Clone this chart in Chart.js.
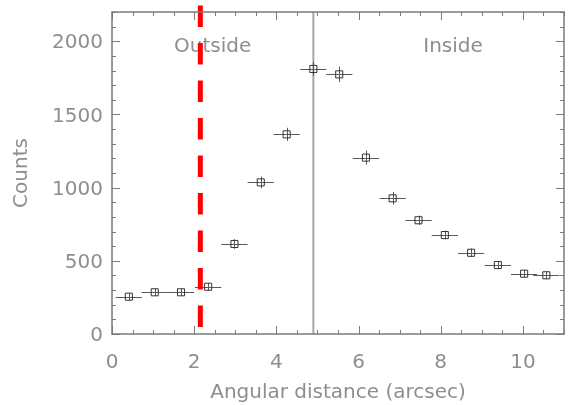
<!DOCTYPE html>
<html>
<head>
<meta charset="utf-8">
<script src="https://cdn.jsdelivr.net/npm/chart.js@4/dist/chart.umd.min.js"></script>
<style>
  html, body { margin: 0; padding: 0; background: #ffffff; }
  #wrap { width: 578px; height: 405px; }
</style>
</head>
<body>
<div id="wrap"><canvas id="c" width="578" height="405"></canvas></div>
<script>
// ---- data ----
const distances = [0.41, 1.04, 1.68, 2.34, 2.98, 3.62, 4.25, 4.90, 5.53, 6.18, 6.83, 7.46, 8.10, 8.74, 9.39, 10.03, 10.57];
const counts    = [255, 285, 285, 323, 615, 1036, 1364, 1811, 1774, 1205, 927, 777, 676, 555, 471, 412, 401];
const xErrors   = [0.32, 0.32, 0.32, 0.32, 0.32, 0.32, 0.32, 0.32, 0.32, 0.32, 0.32, 0.32, 0.32, 0.32, 0.32, 0.32, 0.32];
const yErrors   = [25, 25, 25, 25, 33, 40, 45, 48, 53, 48, 43, 32, 30, 30, 28, 27, 27];
const xTickLabels = [0, 2, 4, 6, 8, 10];
const yTickLabels = [0, 500, 1000, 1500, 2000];
const xMinorStep = 0.5;
const yMinorStep = 100;
const peakLineX = 4.90;      // grey solid vertical line
const boundaryX = 2.15;      // red dashed vertical line
const boundaryYStart = 48;   // bottom end of red dashed line (counts)
const regionLabels = [
  { text: 'Outside', x: 2.45, y: 1960 },
  { text: 'Inside',  x: 8.30, y: 1960 }
];

const FONT = '"DejaVu Sans", "Liberation Sans", sans-serif';
const TXT = '#8e8e8e';
const AXIS = '#7a7a7a';

const decorPlugin = {
  id: 'decor',
  beforeDatasetsDraw(chart) {
    const { ctx, chartArea: a, scales: { x, y } } = chart;
    ctx.save();
    const px = x.getPixelForValue(peakLineX);
    ctx.strokeStyle = '#a8a8a8';
    ctx.lineWidth = 2;
    ctx.beginPath();
    ctx.moveTo(px, a.top);
    ctx.lineTo(px, a.bottom);
    ctx.stroke();

    ctx.fillStyle = TXT;
    ctx.font = '20px ' + FONT;
    ctx.textAlign = 'center';
    ctx.textBaseline = 'middle';
    regionLabels.forEach(l => {
      ctx.fillText(l.text, x.getPixelForValue(l.x), y.getPixelForValue(l.y));
    });

    ctx.lineWidth = 1;
    for (let i = 0; i < distances.length; i++) {
      const cx = x.getPixelForValue(distances[i]);
      const cy = y.getPixelForValue(counts[i]);
      const x0 = x.getPixelForValue(distances[i] - xErrors[i]);
      const x1 = x.getPixelForValue(distances[i] + xErrors[i]);
      const y0 = y.getPixelForValue(counts[i] - yErrors[i]);
      const y1 = y.getPixelForValue(counts[i] + yErrors[i]);
      ctx.strokeStyle = '#5a5a5a';
      ctx.beginPath();
      ctx.moveTo(x0, Math.round(cy) + 0.5);
      ctx.lineTo(x1, Math.round(cy) + 0.5);
      ctx.moveTo(Math.round(cx) + 0.5, y0);
      ctx.lineTo(Math.round(cx) + 0.5, y1);
      ctx.stroke();
    }
    ctx.restore();
  },
  afterDatasetsDraw(chart) {
    const { ctx, chartArea: a, scales: { x, y } } = chart;
    ctx.save();
    const rx = x.getPixelForValue(boundaryX);
    ctx.strokeStyle = '#ff0000';
    ctx.lineWidth = 5;
    ctx.lineCap = 'butt';
    ctx.setLineDash([21.5, 16]);
    ctx.beginPath();
    ctx.moveTo(rx, y.getPixelForValue(boundaryYStart));
    ctx.lineTo(rx, 0);
    ctx.stroke();
    ctx.setLineDash([]);

    ctx.strokeStyle = AXIS;
    ctx.lineWidth = 1.5;
    ctx.strokeRect(a.left, a.top, a.right - a.left, a.bottom - a.top);

    ctx.lineWidth = 1;
    const maj = 8, min = 4;
    for (let v = x.min; v <= x.max + 1e-9; v += xMinorStep) {
      const p = Math.round(x.getPixelForValue(v)) + 0.5;
      const major = xTickLabels.some(t => Math.abs(t - v) < 1e-6);
      const len = major ? maj : min;
      ctx.beginPath();
      ctx.moveTo(p, a.bottom); ctx.lineTo(p, a.bottom - len);
      ctx.moveTo(p, a.top); ctx.lineTo(p, a.top + len);
      ctx.stroke();
    }
    for (let v = y.min; v <= y.max + 1e-9; v += yMinorStep) {
      const p = Math.round(y.getPixelForValue(v)) + 0.5;
      const major = yTickLabels.some(t => Math.abs(t - v) < 1e-6);
      const len = major ? maj : min;
      ctx.beginPath();
      ctx.moveTo(a.left, p); ctx.lineTo(a.left + len, p);
      ctx.moveTo(a.right, p); ctx.lineTo(a.right - len, p);
      ctx.stroke();
    }
    ctx.restore();
  }
};

new Chart(document.getElementById('c'), {
  type: 'scatter',
  data: {
    datasets: [{
      data: distances.map((d, i) => ({ x: d, y: counts[i] })),
      pointStyle: 'rect',
      pointRadius: 5,
      pointHoverRadius: 5,
      pointBorderWidth: 1,
      pointBorderColor: '#333333',
      pointBackgroundColor: 'rgba(0,0,0,0)',
      showLine: false
    }]
  },
  options: {
    responsive: false,
    animation: false,
    events: [],
    layout: { padding: { top: 12, right: 14, left: 0, bottom: 0 } },
    plugins: { legend: { display: false }, tooltip: { enabled: false } },
    scales: {
      x: {
        type: 'linear',
        min: 0,
        max: 11,
        afterBuildTicks(s) { s.ticks = xTickLabels.map(v => ({ value: v })); },
        afterFit(s) { s.height = 71; s.paddingLeft = 0; s.paddingRight = 0; },
        grid: { display: false, drawTicks: false },
        border: { display: false },
        ticks: { color: TXT, font: { family: FONT, size: 20 }, padding: 17, maxRotation: 0, autoSkip: false,
                 callback: v => String(v) },
        title: { display: true, text: 'Angular distance (arcsec)', color: TXT, font: { family: FONT, size: 20 }, padding: { top: 6, bottom: 0 } }
      },
      y: {
        type: 'linear',
        min: 0,
        max: 2200,
        afterBuildTicks(s) { s.ticks = yTickLabels.map(v => ({ value: v })); },
        afterFit(s) { s.width = 112; s.paddingTop = 0; s.paddingBottom = 0; },
        grid: { display: false, drawTicks: false },
        border: { display: false },
        ticks: { color: TXT, font: { family: FONT, size: 20 }, padding: 9, labelOffset: 2, autoSkip: false,
                 callback: v => String(v) },
        title: { display: true, text: 'Counts', color: TXT, font: { family: FONT, size: 20 }, padding: { top: 10, bottom: 0 } }
      }
    }
  },
  plugins: [decorPlugin]
});
</script>
</body>
</html>
